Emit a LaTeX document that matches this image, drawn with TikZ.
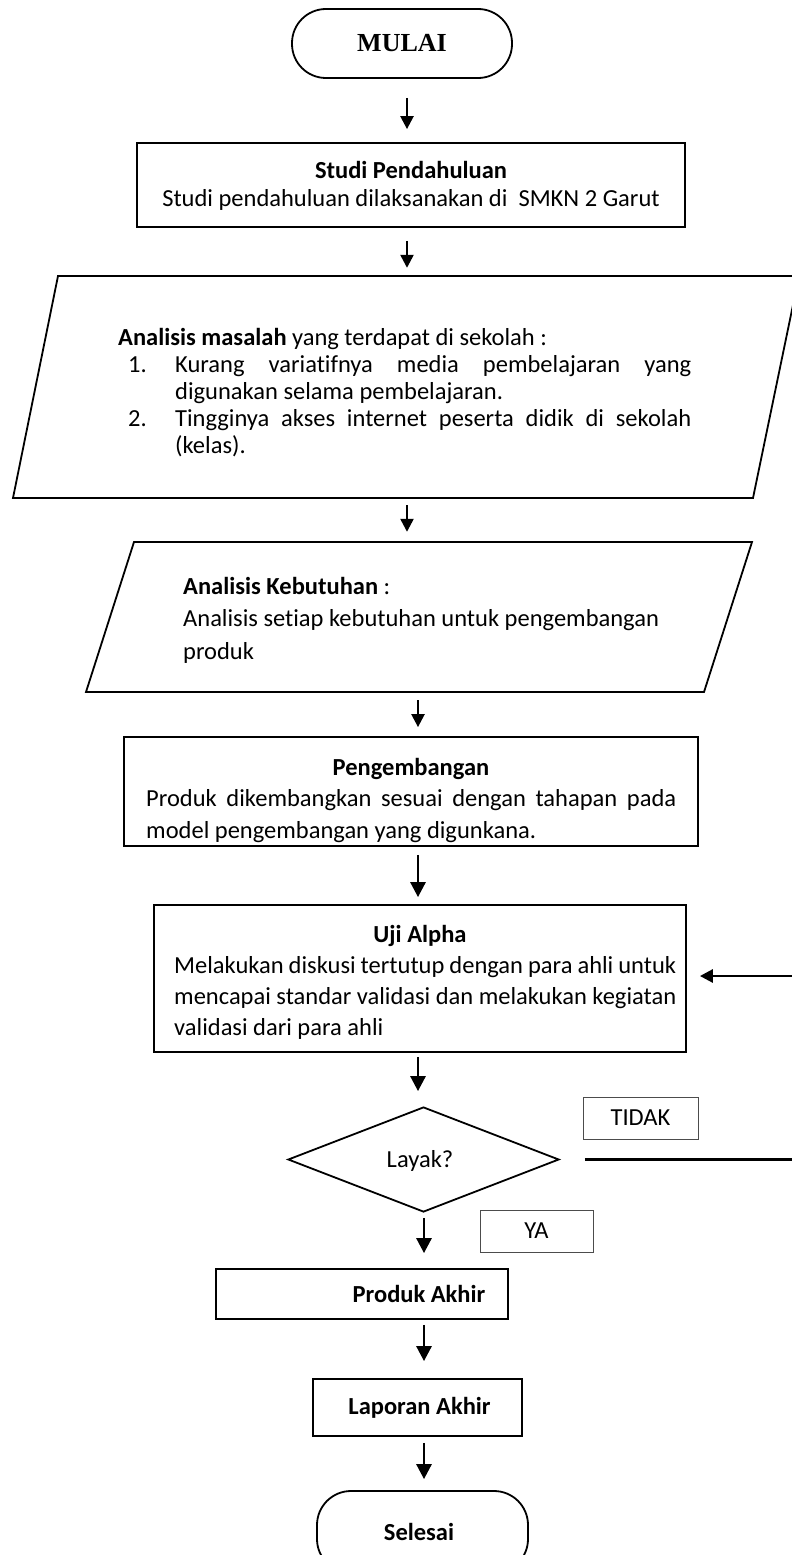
\documentclass[tikz,border=0pt]{standalone}
\usepackage{fontspec}
\setmainfont[Ligatures={NoCommon}]{Carlito}
\newfontfamily\timesfont{Liberation Serif}
\usetikzlibrary{arrows.meta,shapes.geometric}
\begin{document}
\begin{tikzpicture}[x=1pt,y=-1pt,
  font=\fontsize{24.5}{29}\selectfont,
  shapebox/.style={draw,line width=1.8pt,inner sep=0pt},
  thinbox/.style={draw=black!70,line width=0.9pt,inner sep=0pt},
  term/.style={shapebox,rounded corners=34pt},
  lbl/.style={inner sep=0pt,anchor=base},
  lblw/.style={inner sep=0pt,anchor=base west},
  arr/.style={line width=2.4pt,-{Triangle[length=13pt,width=13pt]}},
  bigarr/.style={line width=2.8pt,-{Triangle[length=15pt,width=15pt]}},
  backline/.style={line width=2.8pt},
]
\useasboundingbox (0,0) rectangle (792,1555);

% start
\node[term,minimum width=220pt,minimum height=69pt] (start) at (402,43.5)
  {\timesfont\bfseries\fontsize{26}{30}\selectfont MULAI};

% studi pendahuluan
\node[shapebox,minimum width=548pt,minimum height=84pt] (studi) at (411,185) {};
\node[lbl] (studiT) at (411,178) {\bfseries Studi Pendahuluan};
\node[lbl] (studiB) at (411,206) {Studi pendahuluan dilaksanakan di\ \ SMKN 2 Garut};

% analisis masalah (parallelogram)
\draw[line width=1.8pt] (58,276) -- (799,276) -- (753,498) -- (13,498) -- cycle;
\node[inner sep=0pt,minimum width=700pt,minimum height=222pt] (p1) at (405,387) {};
\node[lblw] (p1t) at (118,345) {\textbf{Analisis masalah} yang terdapat di sekolah :};
\node[lblw] (n1) at (128,372) {1.};
\node[lblw] (i1a) at (175,372) {\makebox[516pt][s]{Kurang variatifnya media pembelajaran yang}};
\node[lblw] (i1b) at (175,399) {digunakan selama pembelajaran.};
\node[lblw] (n2) at (128,426) {2.};
\node[lblw] (i2a) at (175,426) {\makebox[516pt][s]{Tingginya akses internet peserta didik di sekolah}};
\node[lblw] (i2b) at (175,453) {(kelas).};

% analisis kebutuhan (parallelogram)
\draw[line width=1.8pt] (134,542) -- (752,542) -- (704,692) -- (86,692) -- cycle;
\node[inner sep=0pt,minimum width=620pt,minimum height=150pt] (p2) at (419,617) {};
\node[lblw] (p2t) at (183,594) {\textbf{Analisis Kebutuhan} :};
\node[lblw] (p2a) at (183,626) {Analisis setiap kebutuhan untuk pengembangan};
\node[lblw] (p2b) at (183,659) {produk};

% pengembangan
\node[shapebox,minimum width=574pt,minimum height=109pt] (peng) at (411,791.5) {};
\node[lbl] (pengT) at (411,775) {\bfseries Pengembangan};
\node[lblw] (pengA) at (146,806) {\makebox[530pt][s]{Produk dikembangkan sesuai dengan tahapan pada}};
\node[lblw] (pengB) at (146,838) {model pengembangan yang digunkana.};

% uji alpha
\node[shapebox,minimum width=532pt,minimum height=147pt] (uji) at (420,978.5) {};
\node[lbl] (ujiT) at (420,942) {\bfseries Uji Alpha};
\node[lblw] (ujiA) at (174,973) {\makebox[502pt][s]{Melakukan diskusi tertutup dengan para ahli untuk}};
\node[lblw] (ujiB) at (174,1004) {\makebox[502pt][s]{mencapai standar validasi dan melakukan kegiatan}};
\node[lblw] (ujiC) at (174,1035) {validasi dari para ahli};

% decision
\node[shapebox,diamond,minimum width=271pt,minimum height=105pt] (dec) at (423.5,1159.5) {};
\node[inner sep=0pt] (decT) at (420,1161) {Layak?};

% labels
\node[thinbox,minimum width=115pt,minimum height=42pt] (tidak) at (640.5,1118) {TIDAK};
\node[thinbox,minimum width=113pt,minimum height=42pt] (ya) at (536.5,1231) {YA};

% produk akhir
\node[shapebox,minimum width=292pt,minimum height=50pt] (produk) at (362,1294) {};
\node[inner sep=0pt] (produkT) at (419,1294) {\bfseries Produk Akhir};

% laporan akhir
\node[shapebox,minimum width=209pt,minimum height=57pt] (lap) at (417.5,1407.5) {};
\node[inner sep=0pt] (lapT) at (419.5,1408) {\bfseries Laporan Akhir};

% selesai
\node[term,minimum width=211pt,minimum height=82pt] (sel) at (422.5,1532) {};
\node[inner sep=0pt] (selT) at (419,1532) {\bfseries Selesai};

% connectors
\draw[arr,shorten <=19pt,shorten >=13pt] ([xshift=5pt]start.south) -- ([xshift=-4pt]studi.north);
\draw[arr,shorten <=13pt,shorten >=8pt] ([xshift=-4pt]studi.south) -- ([xshift=2pt]p1.north);
\draw[arr,shorten <=7pt,shorten >=10pt] ([xshift=2pt]p1.south) -- ([xshift=-12pt]p2.north);
\draw[arr,shorten <=8pt,shorten >=9pt] ([xshift=-1pt]p2.south) -- ([xshift=7pt]peng.north);
\draw[bigarr,shorten <=8pt,shorten >=7pt] ([xshift=7pt]peng.south) -- ([xshift=-2pt]uji.north);
\draw[bigarr,shorten <=4pt,shorten >=15pt] ([xshift=-2pt]uji.south) -- ([xshift=-5.5pt]dec.north);
\draw[bigarr,shorten <=5pt,shorten >=15pt] ([xshift=0.5pt]dec.south) -- ([xshift=62pt]produk.north);
\draw[bigarr,shorten <=5pt,shorten >=17pt] ([xshift=62pt]produk.south) -- ([xshift=6.5pt]lap.north);
\draw[bigarr,shorten <=6pt,shorten >=11pt] ([xshift=6.5pt]lap.south) -- ([xshift=1.5pt]sel.north);

% feedback (TIDAK)
\coordinate (fbA) at (792,976);
\coordinate (fbB) at (792,1159.5);
\draw[backline,shorten <=25pt] (dec.east) -- (fbB);
\draw[arr,line width=2.8pt,shorten >=13pt] (fbA) -- (uji.east |- fbA);
\end{tikzpicture}
\end{document}
